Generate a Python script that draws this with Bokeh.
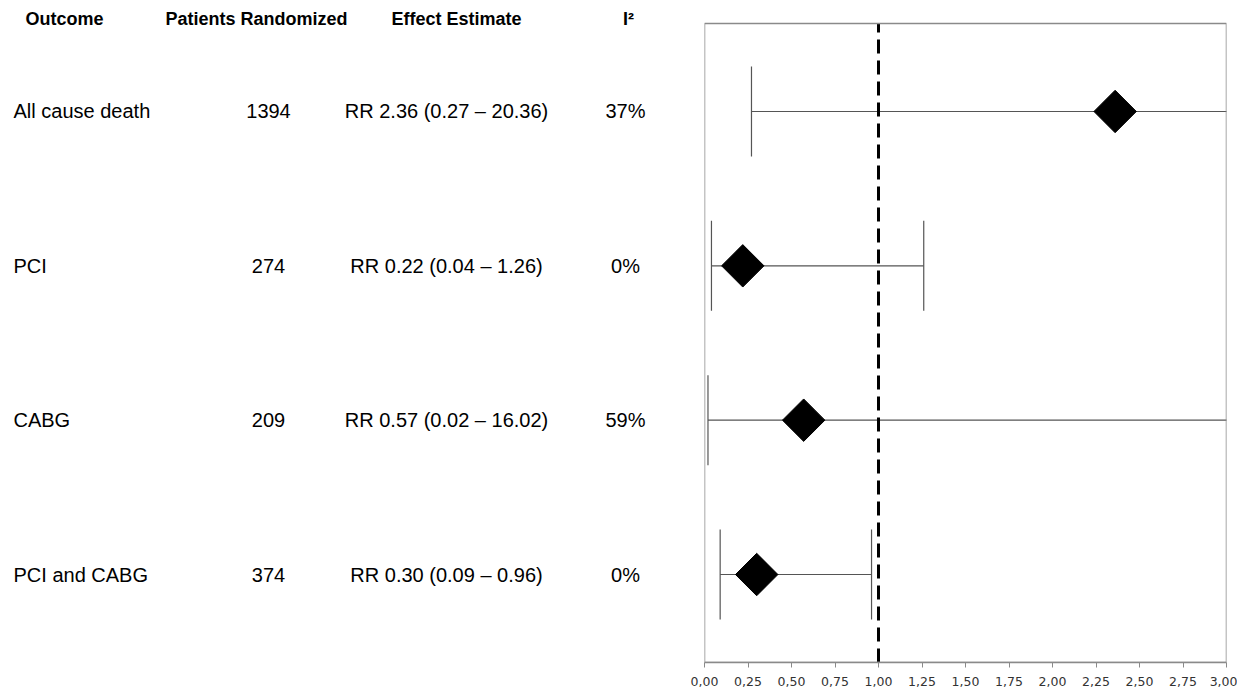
from bokeh.plotting import figure
from bokeh.layouts import row
from bokeh.models import Range1d, FixedTicker, CustomJSTickFormatter, ColumnDataSource, BoxAnnotation
from bokeh.core.properties import value
from bokeh.embed import file_html
from bokeh.resources import INLINE
import math

# ---- data ----
outcomes = ["All cause death", "PCI", "CABG", "PCI and CABG"]
patients = ["1394", "274", "209", "374"]
rr = [2.36, 0.22, 0.57, 0.30]
lower = [0.27, 0.04, 0.02, 0.09]
upper = [20.36, 1.26, 16.02, 0.96]
i2 = ["37%", "0%", "59%", "0%"]
headers = ["Outcome", "Patients Randomized", "Effect Estimate", "I\u00b2"]
x_ticks = [0.0, 0.25, 0.5, 0.75, 1.0, 1.25, 1.5, 1.75, 2.0, 2.25, 2.5, 2.75, 3.0]
null_value = 1.0
X0, X1 = 0.0, 3.0

n = len(outcomes)
ypos = [n - i for i in range(n)]  # 4,3,2,1
effect = [f"RR {r:.2f} ({l:.2f} \u2013 {u:.2f})" for r, l, u in zip(rr, lower, upper)]

# ---- layout constants ----
H = 690
Y0, Y1 = 0.43, 4.57          # extent of the boxed plot area
TOP, BOT = 23, 28
ppu = (H - TOP - BOT) / (Y1 - Y0)
YTOP = Y1 + TOP / ppu         # frame extends to top of canvas

# ---- right: forest plot ----
p = figure(width=547, height=H, x_range=Range1d(X0, X1), y_range=Range1d(Y0, YTOP),
           output_backend="svg", toolbar_location=None,
           min_border_left=14, min_border_right=11, min_border_top=0, min_border_bottom=BOT)
p.yaxis.visible = False
p.xgrid.visible = False
p.ygrid.visible = False
p.outline_line_color = None
ax = p.xaxis[0]
ax.ticker = FixedTicker(ticks=x_ticks)
ax.formatter = CustomJSTickFormatter(code="return tick.toFixed(2).replace('.', ',');")
ax.axis_line_color = "#8a8a8a"
ax.axis_line_width = 1.5
ax.major_tick_line_color = "#8a8a8a"
ax.major_tick_out = 5
ax.major_tick_in = 0
ax.minor_tick_line_color = None
ax.major_label_standoff = 9
ax.major_label_text_font = "DejaVu Sans"
ax.major_label_text_font_size = "12.5px"
ax.major_label_text_color = "#333333"

p.add_layout(BoxAnnotation(left=X0, right=X1, bottom=Y0, top=Y1, fill_alpha=0,
                           line_color="#8a8a8a", line_width=1.5, line_alpha=1))

cap = 45 / ppu
src = ColumnDataSource(dict(y=ypos, rr=rr, lo=lower, hi=upper,
                            ytop=[y + cap for y in ypos], ybot=[y - cap for y in ypos]))
p.segment(x0="lo", x1="hi", y0="y", y1="y", source=src, line_color="#555555", line_width=1.2)
p.segment(x0="lo", x1="lo", y0="ybot", y1="ytop", source=src, line_color="#555555", line_width=1.2)
p.segment(x0="hi", x1="hi", y0="ybot", y1="ytop", source=src, line_color="#555555", line_width=1.2)
p.segment(x0=[null_value], x1=[null_value], y0=[Y0], y1=[Y1], line_color="black",
          line_width=3, line_dash="14 7")
p.scatter(x="rr", y="y", source=src, marker="square", size=30, angle=math.pi / 4,
          fill_color="black", line_color="black")

# ---- left: table ----
t = figure(width=690, height=H, x_range=Range1d(0, 690), y_range=Range1d(Y0, YTOP),
           output_backend="svg", toolbar_location=None,
           min_border_left=0, min_border_right=0, min_border_top=0, min_border_bottom=BOT)
t.axis.visible = False
t.grid.visible = False
t.outline_line_color = None

font = value("Liberation Sans")
header_y = ypos[0] + (111 - 19) / ppu
hx = [64, 256, 456, 628]
t.text(x=hx, y=[header_y] * len(headers), text=headers, text_font=font,
       text_font_size="18px", text_font_style="bold", text_align="center",
       text_baseline="middle", text_color="black")

fs = "20px"
t.text(x=[13] * n, y=ypos, text=outcomes, text_font=font, text_font_size=fs,
       text_align="left", text_baseline="middle", text_color="black")
t.text(x=[268] * n, y=ypos, text=patients, text_font=font, text_font_size=fs,
       text_align="center", text_baseline="middle", text_color="black")
t.text(x=[446] * n, y=ypos, text=effect, text_font=font, text_font_size=fs,
       text_align="center", text_baseline="middle", text_color="black")
t.text(x=[625] * n, y=ypos, text=i2, text_font=font, text_font_size=fs,
       text_align="center", text_baseline="middle", text_color="black")

layout = row(t, p)
open("out.html", "w").write(file_html(layout, INLINE))
